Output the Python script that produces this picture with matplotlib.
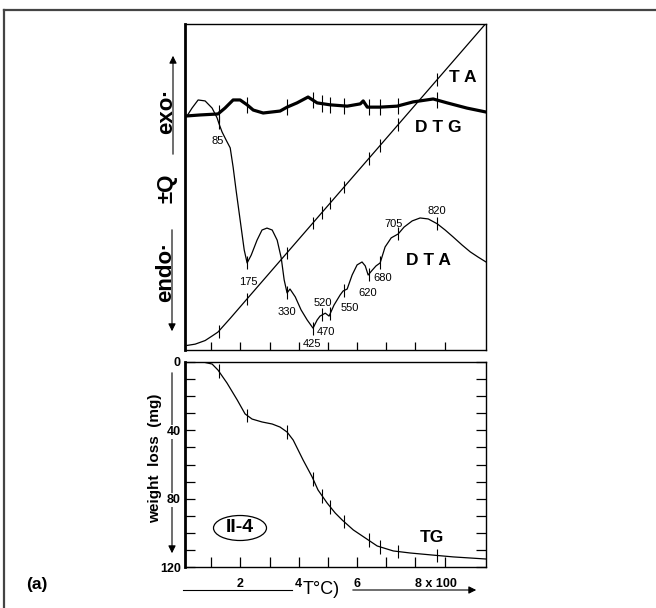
"""
Thermal analysis plate (a): DTA / DTG / TA curves above, TG weight loss below
"""

import numpy as np
import matplotlib.pyplot as plt
from matplotlib.patches import Ellipse, FancyArrowPatch
from matplotlib.lines import Line2D

plt.rcParams['font.family'] = ['Liberation Sans', 'DejaVu Sans']

W, H = 656, 608

# temperature (°C) on the common x axis, upper panel signal in arbitrary units (0-100)
ta_t = [17, 45, 79, 103, 123, 165, 223, 1040]
ta_v = [1.4, 1.8, 2.9, 4.3, 5.5, 9.7, 15.7, 100]

dtg_t = [17, 62, 123, 147, 175, 199, 223, 244, 278, 336, 360, 394, 432, 463, 508,
         566, 611, 621, 635, 679, 737, 792, 861, 909, 977, 1042]
dtg_v = [71.8, 72.1, 72.4, 74.2, 76.7, 76.7, 75.2, 73.6, 72.7, 73.3, 74.5, 75.8, 77.6,
         75.8, 75.2, 74.8, 75.5, 76.4, 74.5, 74.5, 74.8, 76.1, 77.0, 75.8, 74.2, 73.0]

dta_t = [17, 34, 55, 79, 103, 120, 127, 137, 151, 165, 175, 185, 199, 213, 223, 237,
         257, 274, 291, 309, 326, 340, 350, 360, 370, 388, 408, 429, 449, 463, 473,
         491, 504, 521, 542, 552, 566, 583, 600, 617, 628, 638, 652, 665, 679, 696,
         717, 741, 761, 789, 816, 844, 875, 902, 929, 960, 988, 1015, 1042]
dta_v = [71.8, 74.2, 76.7, 76.4, 74.2, 71.2, 69.3, 66.9, 64.4, 62.0, 56.1, 49.1, 39.9,
         30.7, 26.7, 29.1, 33.7, 36.8, 37.4, 36.8, 33.7, 28.2, 21.5, 17.5, 18.7, 16.3,
         12.3, 9.2, 6.7, 9.2, 10.4, 11.3, 10.4, 13.8, 16.9, 18.1, 18.7, 23.0, 26.1,
         27.0, 25.8, 23.0, 24.5, 25.8, 26.7, 31.6, 34.4, 35.6, 37.7, 39.6, 40.5, 40.2,
         38.7, 36.8, 34.7, 32.2, 30.1, 28.5, 27.0]

# TG weight loss (mg)
tg_t = [17, 72, 103, 123, 154, 189, 216, 240, 274, 309, 336, 360, 381, 415, 446, 466,
        497, 525, 549, 587, 628, 669, 724, 782, 858, 930, 1040]
tg_mg = [0, 0, 1.2, 4.7, 12.3, 22.2, 30.4, 33.4, 35.1, 36.3, 38.1, 41.0, 45.7, 57.4,
         67.3, 74.9, 82.5, 88.4, 92.5, 98.3, 103.0, 107.7, 110.6, 111.8, 113.0, 114.1,
         115.3]

# temperatures marked along every curve
mark_t = [125, 223, 360, 449, 480, 508, 555, 640, 679, 741, 875]

# DTA peak labels: text, temperature position, signal position
peak_text = ['85', '175', '330', '425', '470', '520', '550', '620', '680', '705', '820']
peak_t = [123, 226, 360, 446, 494, 484, 576, 638, 689, 724, 875]
peak_v = [64.1, 20.9, 11.7, 1.8, 5.5, 14.4, 12.9, 17.5, 22.1, 38.7, 42.6]


def rect(x0, y0, x1, y1):
    """pixel box -> figure fraction"""
    return [x0 / W, 1 - y1 / H, (x1 - x0) / W, (y1 - y0) / H]


def fx(x):
    return x / W


def fy(y):
    return 1 - y / H


fig = plt.figure(figsize=(W / 100, H / 100), dpi=100)

# outer frame (top and left only)
fig.add_artist(Line2D([fx(4), 1], [fy(10), fy(10)], color='#444444', lw=1.6))
fig.add_artist(Line2D([fx(4), fx(4)], [fy(10), 0], color='#444444', lw=1.6))

# ---------------- upper panel ----------------
ax1 = fig.add_axes(rect(185, 24, 486, 350))
ax1.set_xlim(10, 1042)
ax1.set_ylim(0, 100)

ax1.plot(ta_t, ta_v, color='black', lw=0.9)
ax1.plot(dtg_t, dtg_v, color='black', lw=2.3)
ax1.plot(dta_t, dta_v, color='black', lw=0.9)

mark_ta = np.interp(mark_t, ta_t, ta_v)
mark_dtg = np.interp(mark_t, dtg_t, dtg_v)
mark_dta = np.interp(mark_t, dta_t, dta_v)
ax1.vlines(mark_t, mark_ta - 1.9, mark_ta + 1.9, color='black', lw=0.8)
ax1.vlines(mark_t, mark_dtg - 2.5, mark_dtg + 2.5, color='black', lw=0.8)
ax1.vlines(mark_t, mark_dta - 2.0, mark_dta + 2.0, color='black', lw=0.8)

for txt, t, v in zip(peak_text, peak_t, peak_v):
    ax1.text(t, v, txt, fontsize=8, ha='center', va='center')

ax1.text(962, 83.7, 'T A', fontsize=12.5, fontweight='bold', ha='center', va='center')
ax1.text(880, 68.4, 'D T G', fontsize=12.5, fontweight='bold', ha='center', va='center')
ax1.text(846, 27.6, 'D T A', fontsize=12.5, fontweight='bold', ha='center', va='center')

ax1.set_xticks(range(100, 1000, 100))
ax1.set_yticks([])
ax1.tick_params(axis='x', direction='in', length=6, width=0.9, labelbottom=False)
for side in ['top', 'right', 'bottom']:
    ax1.spines[side].set_linewidth(1.0)
ax1.spines['left'].set_linewidth(2.0)

# exo / endo side annotations
fig.text(fx(167), fy(111), 'exo·', rotation=90, fontsize=16, fontweight='bold',
         ha='center', va='center')
fig.text(fx(167), fy(188), '±Q', rotation=90, fontsize=16, fontweight='bold',
         ha='center', va='center')
fig.text(fx(166), fy(272), 'endo·', rotation=90, fontsize=16, fontweight='bold',
         ha='center', va='center')
fig.add_artist(FancyArrowPatch((fx(173), fy(157)), (fx(173), fy(53)),
                               transform=fig.transFigure, arrowstyle='-|>',
                               mutation_scale=11, color='black', lw=0.8))
fig.add_artist(FancyArrowPatch((fx(172), fy(227)), (fx(172), fy(334)),
                               transform=fig.transFigure, arrowstyle='-|>',
                               mutation_scale=11, color='black', lw=0.8))

# ---------------- lower panel ----------------
ax2 = fig.add_axes(rect(185, 362, 486, 567))
ax2.set_xlim(10, 1042)
ax2.set_ylim(120, 0)

ax2.plot(tg_t, tg_mg, color='black', lw=0.9)
mark_tg = np.interp(mark_t, tg_t, tg_mg)
ax2.vlines(mark_t, mark_tg - 4.0, mark_tg + 4.0, color='black', lw=0.8)

ax2.set_xticks([200, 400, 600, 800], labels=['2', '4', '6', '8 x 100'])
ax2.set_xticks([100, 300, 500, 700, 900], minor=True)
ax2.set_yticks([0, 40, 80, 120], labels=['0', '40', '80', '120'])
ax2.set_yticks(range(10, 120, 10), minor=True)
ax2.tick_params(which='both', direction='in', length=7, width=0.9,
                left=True, right=True, bottom=True, top=False)
ax2.tick_params(axis='x', which='major', pad=8, labelsize=9)
ax2.tick_params(axis='y', which='major', pad=3, labelsize=9)
for lbl in ax2.get_xticklabels() + ax2.get_yticklabels():
    lbl.set_fontweight('bold')
for lbl in ax2.get_yticklabels():
    lbl.set_bbox(dict(facecolor='white', edgecolor='none', pad=0.5))
ax2.get_xticklabels()[-1].set_horizontalalignment('left')
for side in ['top', 'right', 'bottom']:
    ax2.spines[side].set_linewidth(1.0)
ax2.spines['left'].set_linewidth(2.0)

ax2.text(858, 103, 'TG', fontsize=12.5, fontweight='bold', ha='center', va='center')

fig.add_artist(Ellipse((fx(240), fy(528)), 53 / W, 25 / H, transform=fig.transFigure,
                       facecolor='none', edgecolor='black', lw=0.9))
fig.text(fx(240), fy(528), 'II-4', fontsize=14, fontweight='bold', ha='center', va='center')

fig.text(fx(155), fy(458), 'weight  loss  (mg)', rotation=90, fontsize=11,
         fontweight='bold', ha='center', va='center')
fig.add_artist(FancyArrowPatch((fx(172), fy(370)), (fx(172), fy(556)),
                               transform=fig.transFigure, arrowstyle='-|>',
                               mutation_scale=11, color='black', lw=0.8, zorder=0))

# temperature arrow under the x axis
fig.add_artist(Line2D([fx(183), fx(292)], [fy(590), fy(590)], color='black', lw=0.8))
fig.text(fx(321), fy(590), 'T°C)', fontsize=13, ha='center', va='center')
fig.add_artist(FancyArrowPatch((fx(350), fy(590)), (fx(479), fy(590)),
                               transform=fig.transFigure, arrowstyle='-|>',
                               mutation_scale=11, color='black', lw=0.8))

fig.text(fx(37), fy(585), '(a)', fontsize=12.5, fontweight='bold', ha='center', va='center')

fig.savefig('out.png', dpi=100)
